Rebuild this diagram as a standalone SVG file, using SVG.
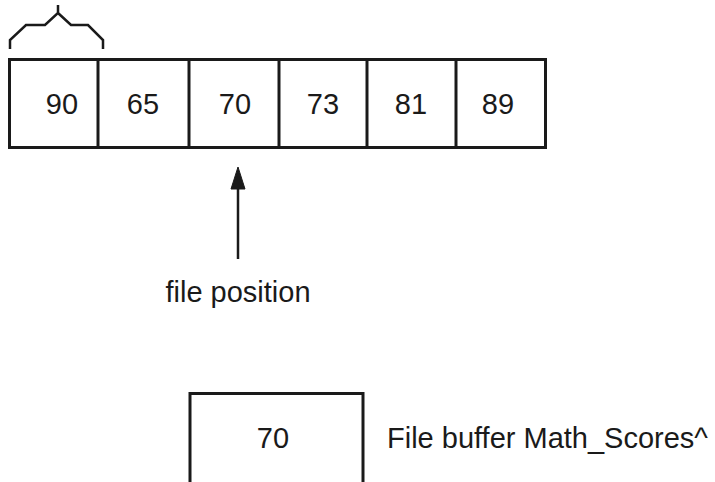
<svg xmlns="http://www.w3.org/2000/svg" width="715" height="482" viewBox="0 0 715 482">
<style>
.box{fill:#fff;stroke:#1a1a1a;stroke-width:3}
.div{stroke:#1a1a1a;stroke-width:3}
.t{font-family:"Liberation Sans",Arial,sans-serif;font-size:29px;fill:#1a1a1a}
.m{text-anchor:middle}
.ln{fill:none;stroke:#1a1a1a;stroke-width:2.5}
</style>
<g id="brace">
<path class="ln" d="M10,49 V40 L26,25 H45 L58,13 V5 M58,13 L71,25 H88 L103,40 V49"/>
</g>
<g id="file-array">
<rect class="box" x="9.5" y="59.5" width="536" height="88"/>
<line class="div" x1="98" y1="59.5" x2="98" y2="147.5"/>
<line class="div" x1="189" y1="59.5" x2="189" y2="147.5"/>
<line class="div" x1="279" y1="59.5" x2="279" y2="147.5"/>
<line class="div" x1="367" y1="59.5" x2="367" y2="147.5"/>
<line class="div" x1="456" y1="59.5" x2="456" y2="147.5"/>
<text class="t m" x="62" y="114">90</text>
<text class="t m" x="143" y="114">65</text>
<text class="t m" x="235" y="114">70</text>
<text class="t m" x="323" y="114">73</text>
<text class="t m" x="411" y="114">81</text>
<text class="t m" x="498" y="114">89</text>
</g>
<g id="connectors">
<line class="ln" x1="238" y1="186" x2="238" y2="259"/>
<path d="M238,167 L231,189 L245,189 Z" fill="#1a1a1a" stroke="#1a1a1a" stroke-width="1" stroke-linejoin="round"/>
</g>
<g id="file-position-label">
<text class="t m" x="238" y="302">file position</text>
</g>
<g id="file-buffer">
<rect class="box" x="190" y="393.5" width="173" height="100"/>
<text class="t m" x="273" y="448">70</text>
<text class="t" x="387" y="448">File buffer Math_Scores^</text>
</g>
</svg>
